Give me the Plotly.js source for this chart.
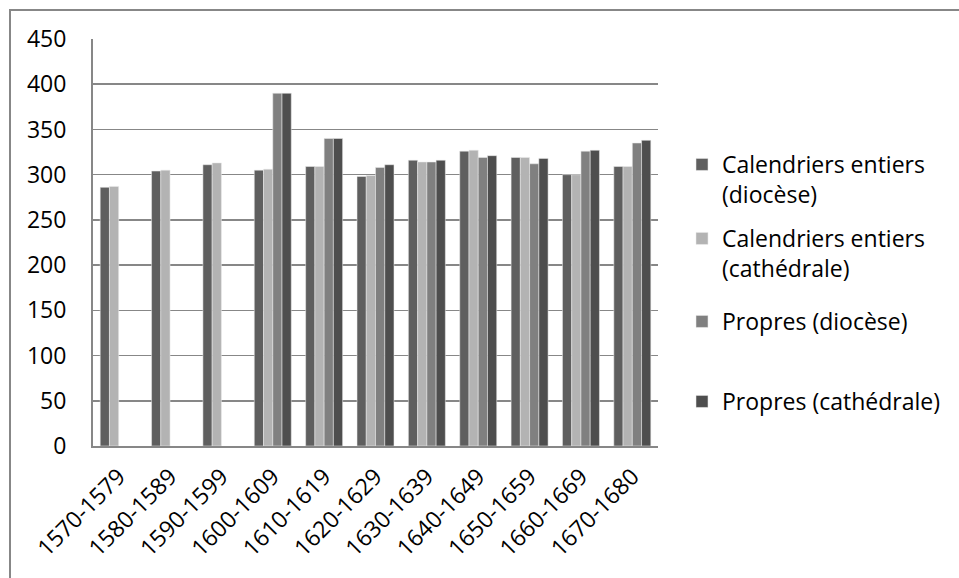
<!DOCTYPE html>
<html>
<head>
<meta charset="utf-8">
<script src="https://cdn.plot.ly/plotly-3.0.1.min.js"></script>
<style>
html,body{margin:0;padding:0;background:#fff;}
#chart{width:959px;height:578px;}
</style>
</head>
<body>
<div id="chart"></div>
<script>
// ---- data ----
var categories = ["1570-1579","1580-1589","1590-1599","1600-1609","1610-1619","1620-1629","1630-1639","1640-1649","1650-1659","1660-1669","1670-1680"];
var seriesNames = ["Calendriers entiers<br>(diocèse)","Calendriers entiers<br>(cathédrale)","Propres (diocèse)","Propres (cathédrale)"];
var calDiocese    = [286, 304, 311, 305, 309, 298, 316, 326, 319, 300, 309];
var calCathedrale = [287, 305, 313, 306, 309, 299, 314, 327, 319, 300, 309];
var propDiocese   = [null, null, null, 390, 340, 308, 314, 319, 312, 326, 335];
var propCathedrale= [null, null, null, 390, 340, 311, 316, 321, 318, 327, 338];
var yTicks = [0, 50, 100, 150, 200, 250, 300, 350, 400, 450];

var colors = ["#5f5f5f", "#b3b3b3", "#808080", "#4e4e4e"];
var values = [calDiocese, calCathedrale, propDiocese, propCathedrale];
var legendIds = ["legend", "legend2", "legend3", "legend4"];

var FONT = "Open Sans, Noto Sans, Liberation Sans, sans-serif";

var traces = values.map(function(v, i){
  return {
    type: "bar",
    x: categories,
    y: v,
    name: seriesNames[i],
    legend: legendIds[i],
    marker: {color: colors[i], line: {color: "rgba(235,235,235,0.9)", width: 0.6}},
    hoverinfo: "x+y"
  };
});

// plot area: x 93..658, y 39..446
var L = 93, R = 959 - 658, T = 39, B = 578 - 446;
var PW = 959 - L - R, PH = 578 - T - B;
function px(x){ return (x - L) / PW; }
function py(y){ return (578 - B - y) / PH; }

function legendAt(topPx){
  return {
    x: px(682), xanchor: "left",
    y: py(topPx), yanchor: "top",
    valign: "top",
    font: {family: FONT, size: 23, color: "#000"},
    bgcolor: "rgba(0,0,0,0)",
    borderwidth: 0
  };
}

var layout = {
  width: 959,
  height: 578,
  margin: {l: L, r: R, t: T, b: B, pad: 0},
  paper_bgcolor: "#ffffff",
  plot_bgcolor: "#ffffff",
  font: {family: FONT, size: 23, color: "#000000"},
  barmode: "group",
  bargap: 0.28,
  bargroupgap: 0,
  showlegend: true,
  legend: legendAt(143),
  legend2: legendAt(217),
  legend3: legendAt(300),
  legend4: legendAt(380),
  xaxis: {
    type: "category",
    tickangle: -45,
    showgrid: false,
    showline: true,
    linecolor: "#878787",
    linewidth: 2,
    ticks: "",
    automargin: false,
    ticklabelstandoff: 6,
    tickfont: {family: FONT, size: 23, color: "#000"}
  },
  yaxis: {
    range: [0, 450],
    tickvals: yTicks,
    ticktext: yTicks.map(String),
    showgrid: true,
    gridcolor: "#878787",
    gridwidth: 1.6,
    zeroline: false,
    showline: true,
    linecolor: "#878787",
    linewidth: 2,
    ticks: "",
    automargin: false,
    ticklabelstandoff: 20,
    tickfont: {family: FONT, size: 23, color: "#000"}
  },
  shapes: [
    {type: "line", xref: "paper", yref: "paper", x0: px(10), x1: px(10), y0: py(9), y1: py(600), line: {color: "#878787", width: 2}},
    {type: "line", xref: "paper", yref: "paper", x0: px(9), x1: px(980), y0: py(10), y1: py(10), line: {color: "#878787", width: 2}}
  ]
};

Plotly.newPlot("chart", traces, layout, {displayModeBar: false, staticPlot: true});
</script>
</body>
</html>
